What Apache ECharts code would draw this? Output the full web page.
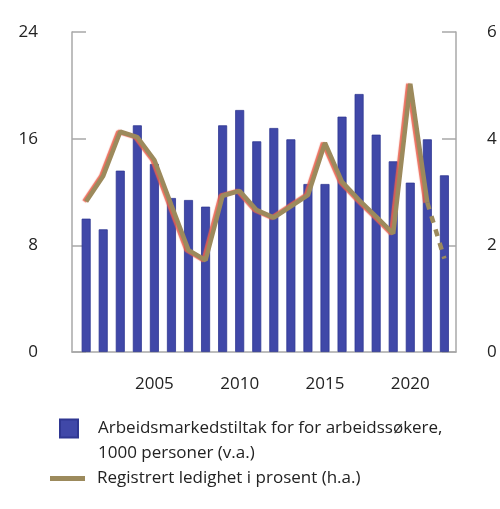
<!DOCTYPE html>
<html>
<head>
<meta charset="utf-8">
<script src="https://cdn.jsdelivr.net/npm/echarts@6/dist/echarts.min.js"></script>
<style>
  html, body { margin: 0; padding: 0; background: #fff; }
  #main { width: 500px; height: 509px; }
</style>
</head>
<body>
<div id="main"></div>
<script>
// år og verdier lest av figuren
let years = [2001, 2002, 2003, 2004, 2005, 2006, 2007, 2008, 2009, 2010, 2011,
             2012, 2013, 2014, 2015, 2016, 2017, 2018, 2019, 2020, 2021, 2022];
// tiltak, 1000 personer (v.a.)
let tiltak = [10.0, 9.2, 13.6, 17.0, 14.1, 11.55, 11.4, 10.9, 17.0, 18.15, 15.8,
              16.8, 15.95, 12.6, 12.6, 17.65, 19.35, 16.3, 14.3, 12.7, 15.95, 13.25];
// registrert ledighet, prosent (h.a.)
let ledighet = [2.82, 3.3, 4.13, 4.03, 3.6, 2.75, 1.91, 1.72, 2.93, 3.02, 2.66,
                2.52, 2.73, 2.94, 3.92, 3.19, 2.85, 2.54, 2.22, 5.03, 2.8, 1.75];
let yearLabels = [2005, 2010, 2015, 2020];

let barName = "Arbeidsmarkedstiltak for for arbeidssøkere, 1000 personer (v.a.)";
let lineName = "Registrert ledighet i prosent (h.a.)";

let chart = echarts.init(document.getElementById("main"));

let barData = years.map((y, i) => [y, tiltak[i]]);
// heltrukken linje til og med 2021, stiplet siste år
let last = years.length - 1;
let lineSolid = years.slice(0, last).map((y, i) => [y, ledighet[i]]);
let lineDashed = [[years[last - 1], ledighet[last - 1]], [years[last], ledighet[last]]];

let font = "Open Sans";
let grey = "#a8a8a8";
let khaki = "#9c8a5c";

let option = {
    animation: false,
    textStyle: { fontFamily: font },
    grid: { left: 72, right: 44, top: 32, bottom: 157 },
    legend: [
        {
            left: 59,
            top: 391,
            padding: 0,
            selectedMode: false,
            itemWidth: 18,
            itemHeight: 18,
            data: [{ name: barName, icon: "rect" }],
            // tom første linje slik at ikonet står ved første tekstlinje
            formatter: () => "\u00a0\nArbeidsmarkedstiltak for for arbeidssøkere,\n1000 personer (v.a.)",
            textStyle: { fontFamily: font, fontSize: 17, color: "#222", lineHeight: 25, padding: [0, 0, 0, 15] }
        },
        {
            left: 50,
            top: 466,
            padding: 0,
            selectedMode: false,
            itemWidth: 35,
            itemHeight: 5,
            data: [{ name: lineName, icon: "rect" }],
            textStyle: { fontFamily: font, fontSize: 17, color: "#222", lineHeight: 25, padding: [0, 0, 0, 7] }
        }
    ],
    xAxis: {
        type: "value",
        min: 2000.17,
        max: 2022.68,
        splitLine: { show: false },
        axisLine: { show: true, lineStyle: { color: grey, width: 1.5 } },
        axisTick: { show: false },
        axisLabel: {
            customValues: yearLabels,
            margin: 24,
            fontSize: 17,
            color: "#222",
            fontFamily: font,
            formatter: (v) => String(v)
        }
    },
    yAxis: [
        {
            type: "value",
            min: 0,
            max: 24,
            interval: 8,
            position: "left",
            splitLine: { show: false },
            axisLine: { show: true, lineStyle: { color: grey, width: 1.5 } },
            axisTick: { show: true, inside: true, length: 14, lineStyle: { color: grey, width: 1.5 } },
            axisLabel: { margin: 34, fontSize: 17, color: "#222", fontFamily: font }
        },
        {
            type: "value",
            min: 0,
            max: 6,
            interval: 2,
            position: "right",
            splitLine: { show: false },
            axisLine: { show: true, lineStyle: { color: grey, width: 1.5 } },
            axisTick: { show: true, inside: true, length: 14, lineStyle: { color: grey, width: 1.5 } },
            axisLabel: { margin: 31, fontSize: 17, color: "#222", fontFamily: font }
        }
    ],
    series: [
        {
            name: barName,
            type: "bar",
            yAxisIndex: 0,
            barWidth: 9,
            itemStyle: { color: "#4048a8", borderColor: "#2f3792", borderWidth: 0.8 },
            data: barData
        },
        {
            name: lineName,
            type: "line",
            yAxisIndex: 1,
            symbol: "none",
            color: khaki,
            lineStyle: {
                color: khaki,
                width: 4.5,
                shadowColor: "rgba(232,96,76,0.9)",
                shadowBlur: 1,
                shadowOffsetX: -2
            },
            data: lineSolid,
            z: 3
        },
        {
            name: "ledighet-stiplet",
            type: "line",
            yAxisIndex: 1,
            symbol: "none",
            lineStyle: { color: khaki, width: 4.5, type: [7, 7] },
            data: lineDashed,
            z: 3
        }
    ]
};

chart.setOption(option);
</script>
</body>
</html>
